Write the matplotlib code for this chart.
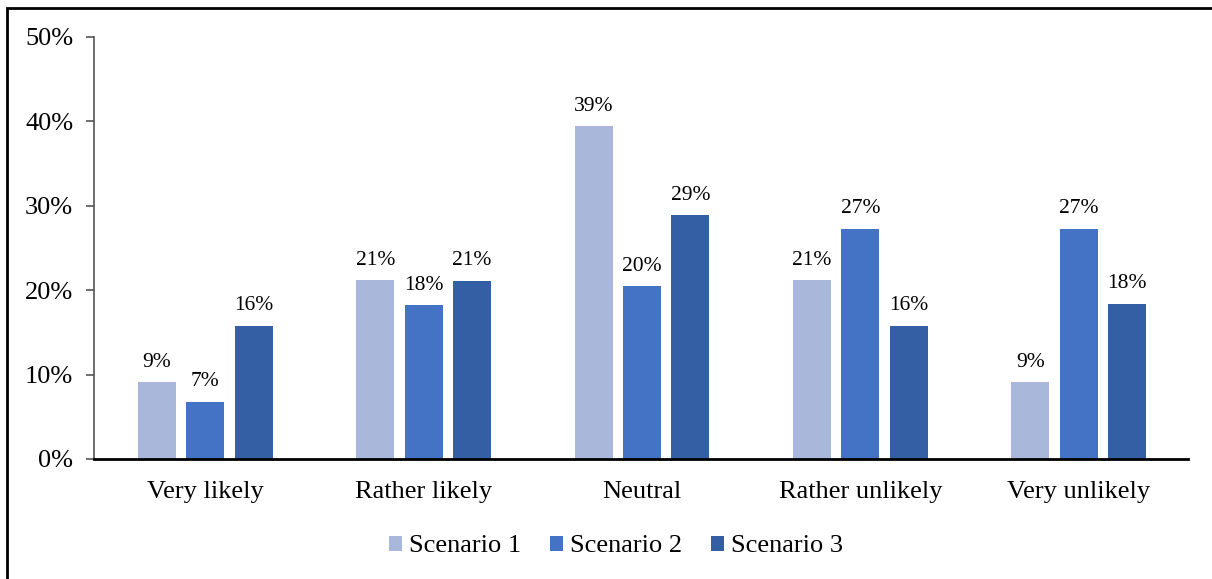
import matplotlib.pyplot as plt
import numpy as np
from matplotlib.patches import Rectangle

categories = ["Very likely", "Rather likely", "Neutral", "Rather unlikely", "Very unlikely"]
series_names = ["Scenario 1", "Scenario 2", "Scenario 3"]
scenario1 = [9.1, 21.2, 39.4, 21.2, 9.1]
scenario2 = [6.8, 18.2, 20.5, 27.3, 27.3]
scenario3 = [15.8, 21.1, 28.9, 15.8, 18.4]
y_ticks = [0, 10, 20, 30, 40, 50]

colors = ["#A9B7DB", "#4472C4", "#355FA5"]

plt.rcParams['font.family'] = ['Liberation Serif', 'DejaVu Serif']

fig = plt.figure(figsize=(12.12, 5.79), dpi=100)
ax = fig.add_axes([0.0776, 0.2073, 0.9024, 0.7288])

x = np.arange(len(categories))
width = 0.174
offsets = [-0.222, 0.0, 0.222]
for vals, off, col, name in zip([scenario1, scenario2, scenario3], offsets, colors, series_names):
    bars = ax.bar(x + off, vals, width, color=col, label=name)
    for b, v in zip(bars, vals):
        ax.annotate(f"{v:.0f}%", (b.get_x() + b.get_width() / 2, v),
                    xytext=(0, 7.5), textcoords="offset points",
                    ha="center", va="bottom", fontsize=15.5)

ax.set_xlim(-0.51, len(categories) - 0.5)
ax.set_ylim(0, 50)
ax.set_yticks(y_ticks)
ax.set_yticklabels([f"{t}%" for t in y_ticks], fontsize=19)
ax.set_xticks(x)
ax.set_xticklabels(categories, fontsize=19)
ax.tick_params(axis="x", length=0, pad=16)
ax.tick_params(axis="y", length=6, width=1.2, color="#555555", pad=9)

for s in ["top", "right"]:
    ax.spines[s].set_visible(False)
ax.spines["left"].set_color("#555555")
ax.spines["left"].set_linewidth(1.2)
ax.spines["bottom"].set_color("black")
ax.spines["bottom"].set_linewidth(2)

ax.legend(loc="upper center", bbox_to_anchor=(0.477, -0.125), ncol=3, frameon=False,
          fontsize=19, handlelength=0.5, handleheight=0.5, handletextpad=0.25,
          columnspacing=1.1)

fig.patches.append(Rectangle((7 / 1212, -0.05), 1.05, 1.05 - 8 / 579,
                             transform=fig.transFigure, fill=False,
                             edgecolor="black", linewidth=2))

fig.savefig("out.png", dpi=100)
